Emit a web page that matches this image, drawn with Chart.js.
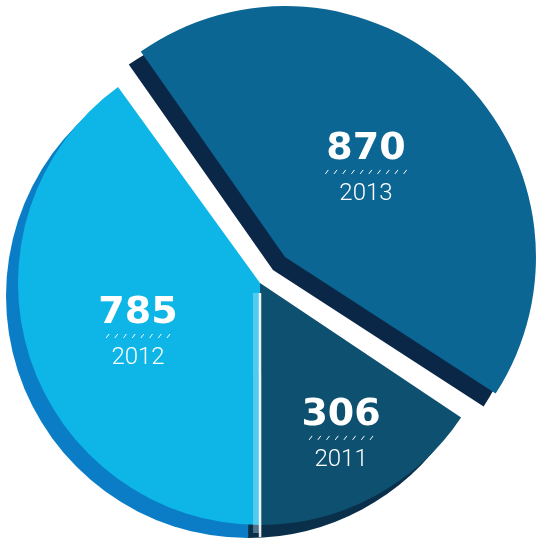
<!DOCTYPE html>
<html>
<head>
<meta charset="utf-8">
<script src="https://cdn.jsdelivr.net/npm/chart.js@4"></script>
<style>
  html, body { margin: 0; padding: 0; background: #ffffff; }
  #wrap { width: 537px; height: 541px; }
</style>
</head>
<body>
<div id="wrap"><canvas id="pieChart"></canvas></div>
<script>
// Data
const years = ['2011', '2012', '2013'];
const counts = [306, 785, 870];
const sliceColors = ['#0e5070', '#0db6e6', '#0b6694'];
const edgeColors = ['#0a2f4a', '#0a7dc6', '#0b2747'];
const slashCounts = [8, 8, 10];

// label centre relative to the pie centre, as a share of the radius
const labelAt = [[0.335, 0.64], [-0.504, 0.219], [0.438, -0.459]];
// the exploded slice grows with its offset, pull it back a little
const radiusScale = [1, 1, 0.94];

// slice size tweak after the library lays the arcs out
const sizePlugin = {
  id: 'sliceSize',
  afterDatasetUpdate(chart) {
    const meta = chart.getDatasetMeta(0);
    const r = meta.controller.outerRadius;
    meta.data.forEach((arc, i) => {
      arc.outerRadius = r * radiusScale[i];
    });
  }
};

// darker "side" of the pie, drawn behind each slice
const depthPlugin = {
  id: 'depth',
  beforeDatasetsDraw(chart) {
    const ctx = chart.ctx;
    const meta = chart.getDatasetMeta(0);
    meta.data.forEach((arc, i) => {
      const fake = Object.create(arc);
      fake.options = Object.assign({}, arc.options, { backgroundColor: edgeColors[i], borderWidth: 0 });
      ctx.save();
      ctx.translate(-12, 13);
      fake.draw(ctx);
      ctx.restore();
    });
  }
};

// big number, small slashes and year in each slice
const labelPlugin = {
  id: 'sliceLabels',
  afterDatasetsDraw(chart) {
    const ctx = chart.ctx;
    const meta = chart.getDatasetMeta(0);
    const r = meta.controller.outerRadius;

    // light seam between 2012 and 2011
    const seam = meta.data[1];
    const a = seam.startAngle;
    ctx.save();
    ctx.lineCap = 'butt';
    ctx.strokeStyle = 'rgba(215, 240, 252, 0.35)';
    ctx.lineWidth = 8;
    ctx.beginPath();
    ctx.moveTo(seam.x - 3, seam.y + 10);
    ctx.lineTo(seam.x - 3 + Math.cos(a) * (r + 8), seam.y + Math.sin(a) * (r + 8));
    ctx.stroke();
    ctx.strokeStyle = 'rgba(255, 255, 255, 0.9)';
    ctx.lineWidth = 2.5;
    ctx.beginPath();
    ctx.moveTo(seam.x, seam.y + 10);
    ctx.lineTo(seam.x + Math.cos(a) * (r + 12), seam.y + Math.sin(a) * (r + 12));
    ctx.stroke();
    ctx.restore();

    meta.data.forEach((arc, i) => {
      const cx = arc.x + labelAt[i][0] * r;
      const cy = arc.y + labelAt[i][1] * r;

      ctx.save();
      ctx.fillStyle = '#ffffff';
      ctx.strokeStyle = '#ffffff';
      ctx.textAlign = 'center';
      ctx.textBaseline = 'middle';
      ctx.font = 'bold 38px "DejaVu Sans"';
      ctx.fillText(String(counts[i]), cx, cy - 23);

      // row of slashes
      const n = slashCounts[i];
      const gap = 8.7;
      const x0 = cx - (n - 1) * gap / 2;
      ctx.lineWidth = 1;
      for (let k = 0; k < n; k++) {
        const sx = x0 + k * gap;
        ctx.beginPath();
        ctx.moveTo(sx - 1.5, cy + 2);
        ctx.lineTo(sx + 1.5, cy - 2);
        ctx.stroke();
      }

      ctx.font = '300 24px Roboto';
      ctx.fillText(years[i], cx, cy + 22);
      ctx.restore();
    });
  }
};

new Chart(document.getElementById('pieChart').getContext('2d'), {
  type: 'pie',
  data: {
    labels: years,
    datasets: [{
      data: counts,
      backgroundColor: sliceColors,
      borderWidth: 0,
      offset: [0, 0, 144]
    }]
  },
  options: {
    responsive: true,
    maintainAspectRatio: false,
    animation: false,
    events: [],
    rotation: 123.8,
    radius: 242,
    layout: { padding: { left: 0, right: 17, top: 25, bottom: 0 } },
    plugins: {
      legend: { display: false },
      tooltip: { enabled: false }
    }
  },
  plugins: [sizePlugin, depthPlugin, labelPlugin]
});
</script>
</body>
</html>
